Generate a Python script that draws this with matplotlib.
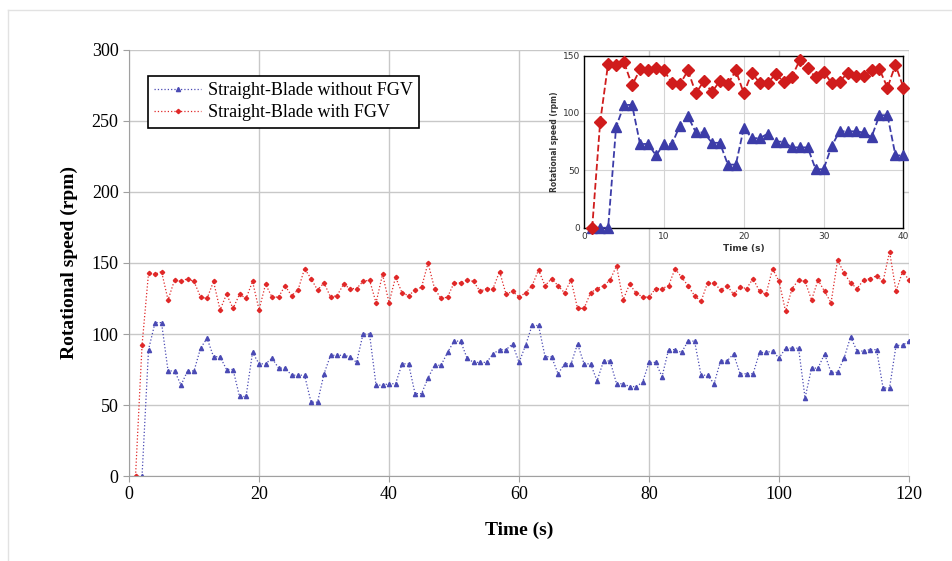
import matplotlib.pyplot as plt
import numpy as np

# main chart data (1 s sampling)
t_red = list(range(1, 121))
rpm_red = [0, 92, 143, 142, 144, 124, 138, 137, 139, 137,
           126, 125, 137, 117, 128, 118, 128, 125, 137, 117,
           135, 126, 126, 134, 127, 131, 146, 139, 131, 136,
           126, 127, 135, 132, 132, 137, 138, 122, 142, 122,
           140, 129, 127, 131, 133, 150, 132, 125, 126, 136,
           136, 138, 137, 130, 132, 132, 144, 128, 130, 126,
           129, 134, 145, 134, 139, 134, 129, 138, 118, 118,
           129, 132, 134, 138, 148, 124, 135, 129, 126, 126,
           132, 132, 134, 146, 140, 134, 127, 123, 136, 136,
           131, 134, 128, 133, 132, 139, 130, 128, 146, 137,
           116, 132, 138, 137, 124, 138, 130, 122, 152, 143,
           136, 132, 138, 139, 141, 137, 158, 130, 144, 138]

t_blue = list(range(2, 121))
rpm_blue = [0, 89, 108, 108, 74, 74, 64, 74, 74,
            90, 97, 84, 84, 75, 75, 56, 56, 87, 79,
            79, 83, 76, 76, 71, 71, 71, 52, 52, 72,
            85, 85, 85, 84, 80, 100, 100, 64, 64, 65,
            65, 79, 79, 58, 58, 69, 78, 78, 87, 95,
            95, 83, 80, 80, 80, 86, 89, 89, 93, 80,
            92, 106, 106, 84, 84, 72, 79, 79, 93, 79,
            79, 67, 81, 81, 65, 65, 63, 63, 66, 80,
            80, 70, 89, 89, 87, 95, 95, 71, 71, 65,
            81, 81, 86, 72, 72, 72, 87, 87, 88, 83,
            90, 90, 90, 55, 76, 76, 86, 73, 73, 83,
            98, 88, 88, 89, 89, 62, 62, 92, 92, 95]

# inset data (first 40 s)
t_inset = list(range(1, 41))
inset_red = [0, 92, 143, 142, 144, 124, 138, 137, 139, 137,
             126, 125, 137, 117, 128, 118, 128, 125, 137, 117,
             135, 126, 126, 134, 127, 131, 146, 139, 131, 136,
             126, 127, 135, 132, 132, 137, 138, 122, 142, 122]
inset_blue = [0, 0, 0, 88, 107, 107, 73, 73, 63, 73,
              73, 89, 97, 83, 83, 74, 74, 55, 55, 87,
              78, 78, 82, 75, 75, 70, 70, 70, 51, 51,
              71, 84, 84, 84, 83, 79, 98, 98, 63, 63]

blue = '#4a4ab4'
red = '#e02828'
grid_c = '#c8c8c8'
serif = ['Liberation Serif', 'DejaVu Serif']

fig = plt.figure(figsize=(9.53, 5.61), dpi=100)

# faint page border seen in the reference
fig.add_artist(plt.Line2D([8/953, 8/953], [0, 1 - 10/561], color='#e2e2e2', lw=1))
fig.add_artist(plt.Line2D([8/953, 1], [1 - 10/561, 1 - 10/561], color='#e2e2e2', lw=1))

ax = fig.add_axes([0.1354, 0.1515, 0.8185, 0.7594])

ax.plot(t_blue, rpm_blue, linestyle=':', color=blue, lw=0.9, marker='^',
        markersize=3, label='Straight-Blade without FGV')
ax.plot(t_red, rpm_red, linestyle=':', color=red, lw=0.9, marker='D',
        markersize=2.2, label='Straight-Blade with FGV')

ax.set_xlim(0, 120)
ax.set_ylim(0, 300)
ax.set_xticks(np.arange(0, 121, 20))
ax.set_yticks(np.arange(0, 301, 50))
ax.grid(True, color=grid_c, lw=1)
ax.set_axisbelow(True)
for s in ['top', 'right']:
    ax.spines[s].set_visible(False)
for s in ['left', 'bottom']:
    ax.spines[s].set_color('#a0a0a0')
ax.tick_params(colors='#a0a0a0', length=4, labelcolor='black')
for lab in ax.get_xticklabels() + ax.get_yticklabels():
    lab.set_family(serif)
    lab.set_fontsize(13)
ax.set_xlabel('Time (s)', family=serif, fontsize=14, fontweight='bold', labelpad=13)
ax.set_ylabel('Rotational speed (rpm)', family=serif, fontsize=14,
              fontweight='bold', labelpad=10)

leg = ax.legend(loc='upper left', bbox_to_anchor=(0.024, 0.94), fancybox=False,
                edgecolor='black', framealpha=1, borderaxespad=0,
                prop={'family': serif, 'size': 13}, handlelength=2.6,
                handletextpad=0.4, labelspacing=0.3, borderpad=0.35)
leg.get_frame().set_linewidth(1.2)

# inset
axi = fig.add_axes([0.613, 0.594, 0.335, 0.307])
axi.plot(t_inset, inset_blue, linestyle='--', color='#3c3ca8', lw=1.3,
         marker='^', markersize=7, clip_on=False, zorder=3)
axi.plot(t_inset, inset_red, linestyle='--', color='#d01c1c', lw=1.3,
         marker='D', markersize=6, clip_on=False, zorder=4)
axi.set_xlim(0, 40)
axi.set_ylim(0, 150)
axi.set_xticks(np.arange(0, 41, 10))
axi.set_yticks(np.arange(0, 151, 50))
axi.grid(True, color='#d4d4d4', lw=0.8)
axi.set_axisbelow(True)
for s in axi.spines.values():
    s.set_color('black')
    s.set_linewidth(1.0)
axi.tick_params(length=0, labelsize=6.5, pad=3, labelcolor='#333333')
axi.set_xlabel('Time (s)', fontsize=6.5, fontweight='bold', labelpad=2, color='#333333')
axi.set_ylabel('Rotational speed (rpm)', fontsize=5.5, fontweight='bold',
               labelpad=3, color='#333333')

fig.savefig('out.png', dpi=100)
